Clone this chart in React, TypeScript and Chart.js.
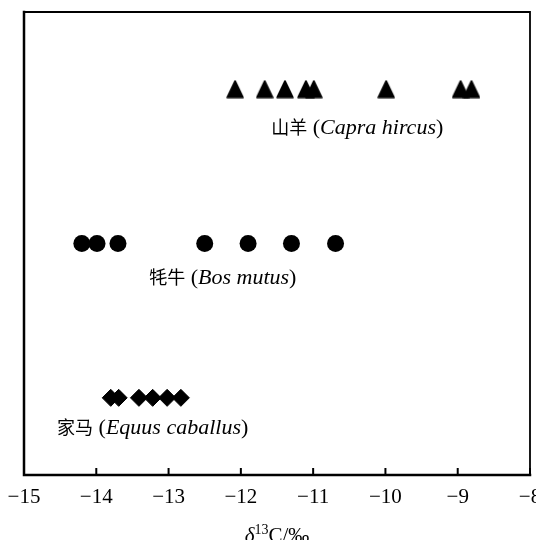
import React, { useEffect, useRef } from "react";
import { Chart, registerables } from "chart.js";

Chart.register(...registerables);

// ---- data ----
const xTicks = [-15, -14, -13, -12, -11, -10, -9, -8];
const goatX = [-12.08, -11.67, -11.39, -11.1, -10.99, -9.99, -8.96, -8.81];
const yakX = [-14.2, -13.99, -13.7, -12.5, -11.9, -11.3, -10.69];
const horseX = [-13.8, -13.69, -13.41, -13.22, -13.02, -12.83];
const rowY = [2.5, 1.5, 0.5]; // goat, yak, horse
const speciesCn = ["山羊", "牦牛", "家马"];
const speciesLatin = ["Capra hircus", "Bos mutus", "Equus caballus"];
const labelX = [-10.39, -12.25, -13.22];
const labelY = [2.255, 1.283, 0.311];

const SERIF = "'Liberation Serif', 'Times New Roman', serif";
const CJK = "'Noto Sans CJK SC', sans-serif";

const CANVAS_W = 556;
const CANVAS_H = 560;

function makeTriangle(): HTMLCanvasElement {
  const c = document.createElement("canvas");
  c.width = 18;
  c.height = 19;
  const g = c.getContext("2d")!;
  g.fillStyle = "#000";
  g.strokeStyle = "#000";
  g.lineJoin = "round";
  g.lineWidth = 1.5;
  g.beginPath();
  g.moveTo(9, 1.2);
  g.lineTo(17, 17.8);
  g.lineTo(1, 17.8);
  g.closePath();
  g.fill();
  g.stroke();
  return c;
}

const framePlugin = {
  id: "frame",
  afterDraw(chart: any) {
    const { ctx, chartArea } = chart;
    const { left, top, right, bottom } = chartArea;
    const xs = chart.scales.x;
    ctx.save();
    ctx.strokeStyle = "#000";
    ctx.lineCap = "square";
    // top & right
    ctx.lineWidth = 1.8;
    ctx.beginPath();
    ctx.moveTo(left, top);
    ctx.lineTo(right, top);
    ctx.lineTo(right, bottom);
    ctx.stroke();
    // left & bottom (heavier)
    ctx.lineWidth = 2.5;
    ctx.beginPath();
    ctx.moveTo(left, top);
    ctx.lineTo(left, bottom);
    ctx.lineTo(right, bottom);
    ctx.stroke();
    // inward ticks
    ctx.lineWidth = 2;
    ctx.lineCap = "butt";
    xs.ticks.forEach((t: any) => {
      const px = xs.getPixelForValue(t.value);
      ctx.beginPath();
      ctx.moveTo(px, bottom);
      ctx.lineTo(px, bottom - 7);
      ctx.stroke();
    });
    // axis title: δ13C/‰
    ctx.fillStyle = "#000";
    ctx.textBaseline = "alphabetic";
    const parts: [string, string, number][] = [
      ["δ", `italic 21px ${SERIF}`, 0],
      ["13", `14px ${SERIF}`, -8],
      ["C/‰", `21px ${SERIF}`, 0],
    ];
    let total = 0;
    parts.forEach(([s, f]) => {
      ctx.font = f;
      total += ctx.measureText(s).width;
    });
    let x = (left + right) / 2 - total / 2;
    const base = 542;
    parts.forEach(([s, f, dy]) => {
      ctx.font = f;
      ctx.fillText(s, x, base + dy);
      x += ctx.measureText(s).width;
    });
    ctx.restore();
  },
};

const labelPlugin = {
  id: "speciesLabels",
  afterDatasetsDraw(chart: any) {
    const { ctx } = chart;
    const xs = chart.scales.x;
    const ys = chart.scales.y;
    ctx.save();
    ctx.fillStyle = "#000";
    ctx.textBaseline = "alphabetic";
    for (let i = 0; i < speciesCn.length; i++) {
      const cx = xs.getPixelForValue(labelX[i]);
      const cy = ys.getPixelForValue(labelY[i]);
      const segs: [string, string][] = [
        [speciesCn[i], `18px ${CJK}`],
        [" (", `22px ${SERIF}`],
        [speciesLatin[i], `italic 22px ${SERIF}`],
        [")", `22px ${SERIF}`],
      ];
      let total = 0;
      segs.forEach(([s, f]) => {
        ctx.font = f;
        total += ctx.measureText(s).width;
      });
      let x = cx - total / 2;
      segs.forEach(([s, f]) => {
        ctx.font = f;
        ctx.fillText(s, x, cy + 7);
        x += ctx.measureText(s).width;
      });
    }
    ctx.restore();
  },
};

export default function App() {
  const ref = useRef<HTMLCanvasElement>(null);

  useEffect(() => {
    document.body.style.margin = "0";
    const tri = makeTriangle();
    const chart = new Chart(ref.current!, {
      type: "scatter",
      data: {
        datasets: [
          {
            label: "goat",
            data: goatX.map((v) => ({ x: v, y: rowY[0] })),
            pointStyle: tri as any,
            pointRadius: 9,
            backgroundColor: "#000",
            borderColor: "#000",
          },
          {
            label: "yak",
            data: yakX.map((v) => ({ x: v, y: rowY[1] })),
            pointStyle: "circle",
            pointRadius: 8.5,
            borderWidth: 0,
            backgroundColor: "#000",
            borderColor: "#000",
          },
          {
            label: "horse",
            data: horseX.map((v) => ({ x: v, y: rowY[2] })),
            pointStyle: "rectRot",
            pointRadius: 8.5,
            borderWidth: 1,
            backgroundColor: "#000",
            borderColor: "#000",
          },
        ],
      },
      options: {
        responsive: false,
        animation: false,
        layout: { padding: { left: 24, right: CANVAS_W - 530, top: 12, bottom: 0 } },
        plugins: {
          legend: { display: false },
          tooltip: { enabled: false },
          title: { display: false },
        },
        scales: {
          x: {
            type: "linear",
            min: -15,
            max: -8,
            afterBuildTicks: (s: any) => {
              s.ticks = xTicks.map((v) => ({ value: v }));
            },
            afterFit: (s: any) => {
              s.height = CANVAS_H - 475;
              s.paddingLeft = 0;
              s.paddingRight = 0;
            },
            grid: { display: false, drawTicks: false },
            border: { display: false },
            ticks: {
              autoSkip: false,
              maxRotation: 0,
              padding: 10,
              color: "#000",
              font: { family: SERIF, size: 21 },
              callback: (v: any) => String(v).replace("-", "−"),
            },
          },
          y: {
            type: "linear",
            min: 0,
            max: 3,
            display: false,
          },
        },
      },
      plugins: [framePlugin, labelPlugin],
    });
    return () => chart.destroy();
  }, []);

  return (
    <div
      style={{
        position: "absolute",
        left: 0,
        top: 0,
        width: 536,
        height: 540,
        overflow: "hidden",
      }}
    >
      <canvas ref={ref} width={CANVAS_W} height={CANVAS_H} style={{ display: "block" }} />
    </div>
  );
}
